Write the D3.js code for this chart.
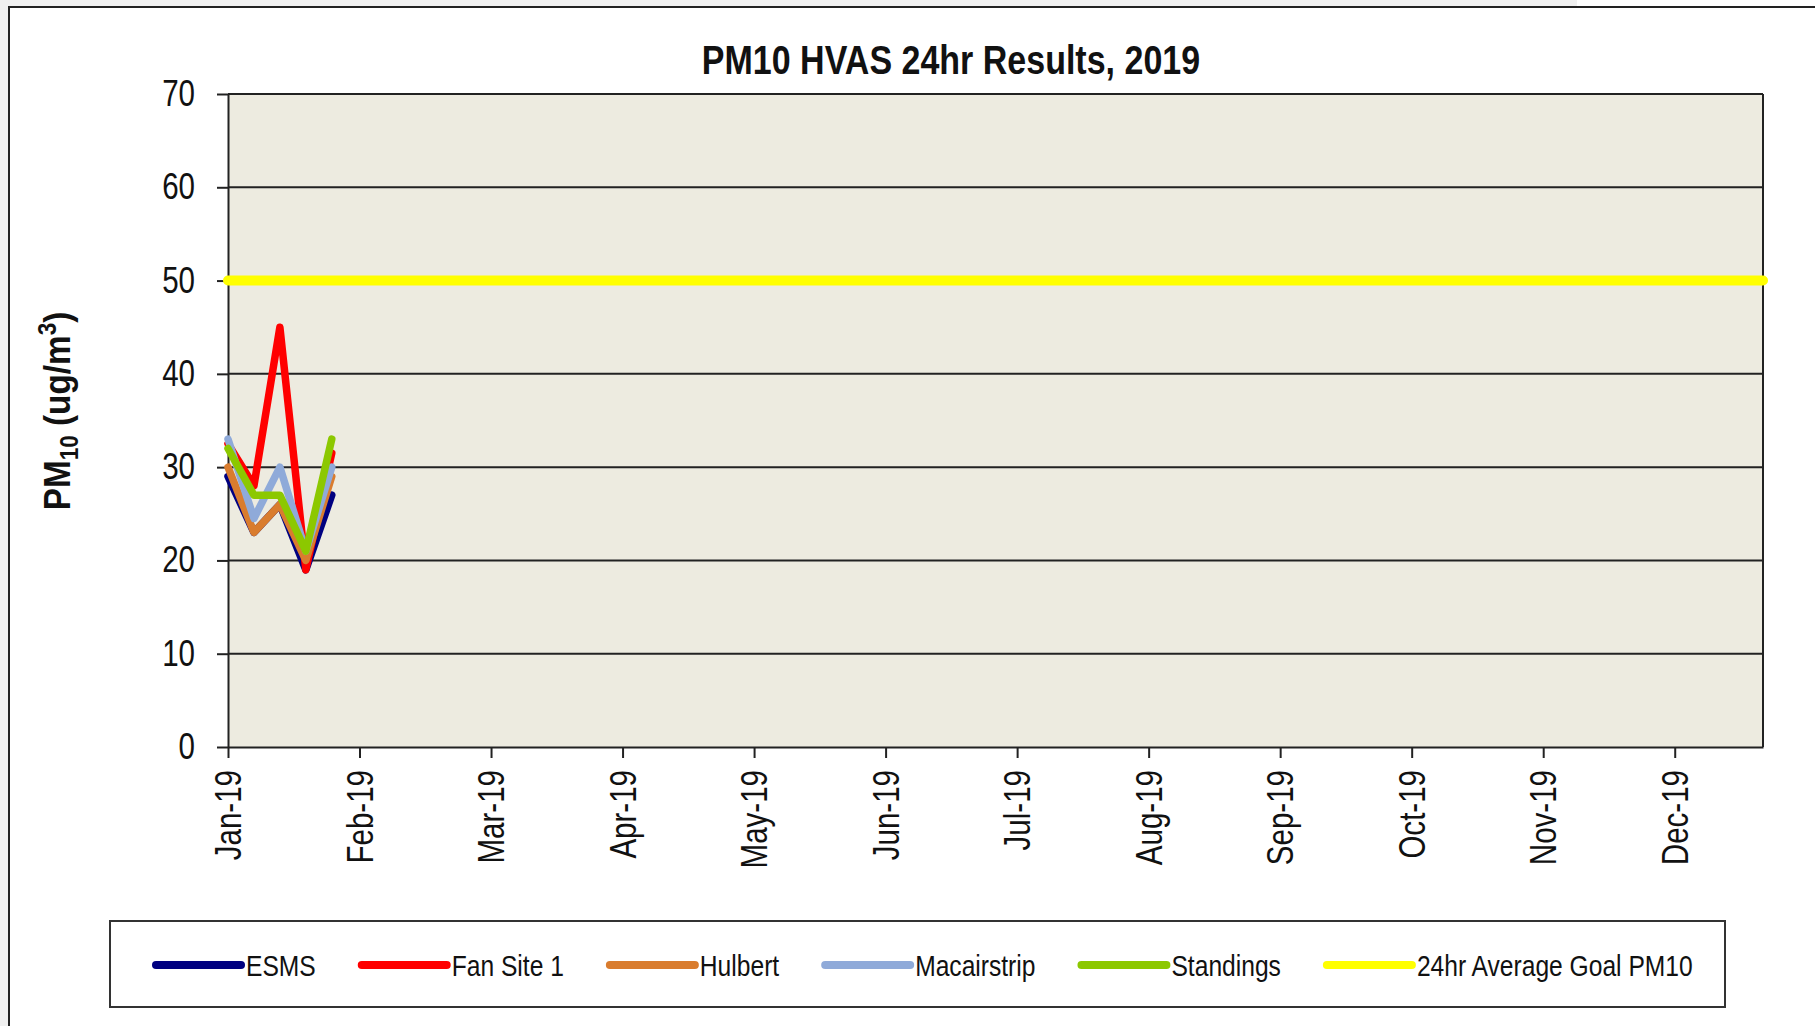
<!DOCTYPE html>
<html>
<head>
<meta charset="utf-8">
<script src="https://cdn.jsdelivr.net/npm/d3@7"></script>
<style>
  body { margin: 0; background: #f0f0f0; }
  svg { display: block; font-family: "Liberation Sans Narrow", "Arial Narrow", "Liberation Sans", Arial, sans-serif; }
</style>
</head>
<body>
<script>

// sample dates (1 in 6 day HVAS runs) and values
var sampleDates = ['2019-01-01', '2019-01-07', '2019-01-13', '2019-01-19', '2019-01-25'];

var esms        = [29, 23, 26, 19, 27];
var fanSite1    = [32.5, 28, 45, 19, 31.5];
var hulbert     = [30, 23, 26, 20, 29];
var macairstrip = [33, 24.5, 30, 21, 30];
var standings   = [32, 27, 27, 21, 33];

var goalValue = 50;

var seriesNames = ['ESMS', 'Fan Site 1', 'Hulbert', 'Macairstrip', 'Standings', '24hr Average Goal PM10'];
var seriesColors = ['#000080', '#ff0000', '#d97c2e', '#8faad9', '#8cc800', '#ffff00'];

var monthLabels = ['Jan-19', 'Feb-19', 'Mar-19', 'Apr-19', 'May-19', 'Jun-19',
                   'Jul-19', 'Aug-19', 'Sep-19', 'Oct-19', 'Nov-19', 'Dec-19'];
var yTicks = [0, 10, 20, 30, 40, 50, 60, 70];

var W = 1815, H = 1026;
var plot = {left: 228, right: 1763, top: 94, bottom: 747};

// no narrow font installed, so squeeze the glyphs like arial narrow
var NARROW = 0.82;
function narrow(sel, k) {
  k = k || NARROW;
  sel.each(function() {
    var len = this.getComputedTextLength();
    d3.select(this)
        .attr('textLength', len * k)
        .attr('lengthAdjust', 'spacingAndGlyphs');
  });
}

// x is days since 1 Jan 2019, ticks every twelfth of a year like the excel axis
var start = new Date(2019, 0, 1);
var dayOf = function(s) { return d3.timeDay.count(start, d3.timeParse('%Y-%m-%d')(s)); };
var monthTicks = d3.range(12).map(function(i) { return i * 365 / 12; });

var x = d3.scaleLinear()
    .domain([0, 355])
    .range([plot.left, plot.right]);

var y = d3.scaleLinear()
    .domain([0, 70])
    .range([plot.bottom, plot.top]);

var color = d3.scaleOrdinal().domain(seriesNames).range(seriesColors);

var svg = d3.select('body').append('svg')
    .attr('width', W)
    .attr('height', H);

// chart area frame (right / bottom edges run off the screenshot)
svg.append('rect').attr('x', 1577).attr('y', 0).attr('width', W - 1577).attr('height', 8).attr('fill', '#fff');
svg.append('rect')
    .attr('x', 9).attr('y', 7)
    .attr('width', W + 20).attr('height', H + 20)
    .attr('fill', '#fff')
    .attr('stroke', '#222')
    .attr('stroke-width', 2);

// plot background
svg.append('rect')
    .attr('x', plot.left).attr('y', plot.top)
    .attr('width', plot.right - plot.left).attr('height', plot.bottom - plot.top)
    .attr('fill', '#edebe0');

// gridlines
svg.append('g')
    .selectAll('line')
    .data(yTicks.slice(1))
  .enter().append('line')
    .attr('x1', plot.left).attr('x2', plot.right)
    .attr('y1', function(d) { return y(d); })
    .attr('y2', function(d) { return y(d); })
    .attr('stroke', '#222')
    .attr('stroke-width', 2);

svg.append('line')
    .attr('x1', plot.right).attr('x2', plot.right)
    .attr('y1', plot.top).attr('y2', plot.bottom)
    .attr('stroke', '#222').attr('stroke-width', 2);

// y axis
var yAxis = d3.axisLeft(y).tickValues(yTicks).tickSize(11).tickPadding(22).tickSizeOuter(0);
var gy = svg.append('g')
    .attr('transform', 'translate(' + plot.left + ',0)')
    .call(yAxis);
gy.select('.domain').attr('stroke', '#222').attr('stroke-width', 2);
gy.selectAll('.tick line').attr('stroke', '#222').attr('stroke-width', 2);
gy.selectAll('.tick text')
    .attr('font-family', null)
    .attr('font-size', 36)
    .attr('fill', '#111')
    .call(narrow);

// x axis
var xAxis = d3.axisBottom(x)
    .tickValues(monthTicks)
    .tickFormat(function(d, i) { return monthLabels[i]; })
    .tickSize(11)
    .tickSizeOuter(0);
var gx = svg.append('g')
    .attr('transform', 'translate(0,' + plot.bottom + ')')
    .call(xAxis);
gx.select('.domain').attr('stroke', '#222').attr('stroke-width', 2);
gx.selectAll('.tick line').attr('stroke', '#222').attr('stroke-width', 2);
gx.selectAll('.tick text')
    .attr('font-family', null)
    .attr('font-size', 36)
    .attr('fill', '#111')
    .attr('y', 0)
    .attr('x', -23)
    .attr('dy', '0.35em')
    .attr('transform', 'rotate(-90)')
    .style('text-anchor', 'end')
    .call(narrow);

// series
var allSeries = [esms, fanSite1, hulbert, macairstrip, standings];
var line = d3.line()
    .x(function(d, i) { return x(dayOf(sampleDates[i])); })
    .y(function(d) { return y(d); });

svg.append('g')
    .selectAll('path')
    .data(allSeries)
  .enter().append('path')
    .attr('d', line)
    .attr('fill', 'none')
    .attr('stroke', function(d, i) { return color(seriesNames[i]); })
    .attr('stroke-width', 7.5)
    .attr('stroke-linejoin', 'round')
    .attr('stroke-linecap', 'round');

// goal line across the whole year
svg.append('line')
    .attr('x1', x(0)).attr('x2', x(355))
    .attr('y1', y(goalValue)).attr('y2', y(goalValue))
    .attr('stroke', color(seriesNames[5]))
    .attr('stroke-width', 10)
    .attr('stroke-linecap', 'round');

// title
svg.append('text')
    .attr('x', 951)
    .attr('y', 74)
    .attr('text-anchor', 'middle')
    .attr('font-size', 40)
    .attr('font-weight', 'bold')
    .attr('fill', '#111')
    .text('PM10 HVAS 24hr Results, 2019')
    .call(narrow, 0.85);

// y label with sub / superscript
var ylab = svg.append('text')
    .attr('transform', 'translate(70,411) rotate(-90)')
    .attr('text-anchor', 'middle')
    .attr('font-size', 37)
    .attr('font-weight', 'bold')
    .attr('fill', '#111');
ylab.append('tspan').text('PM');
ylab.append('tspan').attr('font-size', 25).attr('dy', 8).text('10');
ylab.append('tspan').attr('dy', -8).text(' (ug/m');
ylab.append('tspan').attr('font-size', 25).attr('dy', -14).text('3');
ylab.append('tspan').attr('dy', 14).text(')');
ylab.call(narrow, 0.9);

// legend
svg.append('rect')
    .attr('x', 110).attr('y', 921)
    .attr('width', 1615).attr('height', 86)
    .attr('fill', '#fff')
    .attr('stroke', '#333')
    .attr('stroke-width', 2);

var cursor = 156, ly = 965;
seriesNames.forEach(function(name) {
  svg.append('line')
      .attr('x1', cursor).attr('x2', cursor + 85)
      .attr('y1', ly).attr('y2', ly)
      .attr('stroke', color(name))
      .attr('stroke-width', 8)
      .attr('stroke-linecap', 'round');
  var t = svg.append('text')
      .attr('x', cursor + 90)
      .attr('y', ly)
      .attr('dy', '0.35em')
      .attr('font-size', 30)
      .attr('fill', '#111')
      .text(name);
  var w = t.node().getComputedTextLength();
  t.call(narrow);
  cursor += 90 + w * NARROW + 46;
});

</script>
</body>
</html>
